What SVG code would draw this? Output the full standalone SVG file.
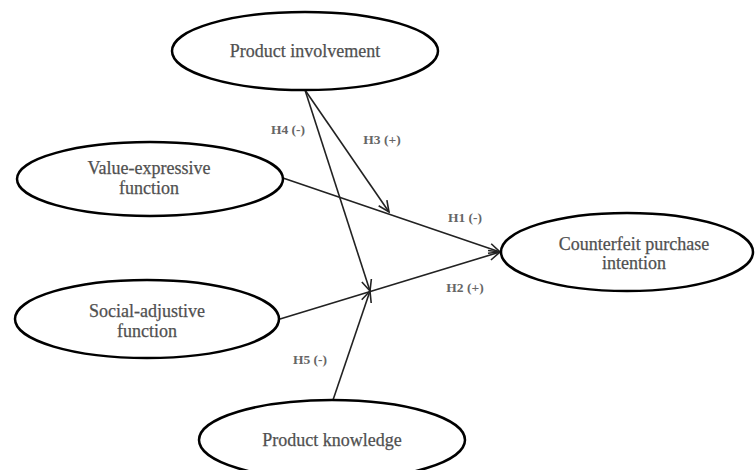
<svg xmlns="http://www.w3.org/2000/svg" width="755" height="470" viewBox="0 0 755 470">
<style>
.node ellipse{fill:#fff;stroke:#000;stroke-width:2.5}
.nt{font-family:"Liberation Serif","DejaVu Serif",serif;font-size:18px;fill:#505050;text-anchor:middle;stroke:#505050;stroke-width:0.25}
.lb{font-family:"Liberation Serif","DejaVu Serif",serif;font-size:13.5px;fill:#666;text-anchor:middle;font-weight:bold}
.edges line{stroke:#222;stroke-width:1.6;marker-end:url(#arr)}
</style>
<defs>
<marker id="arr" markerUnits="userSpaceOnUse" markerWidth="14" markerHeight="14" refX="12" refY="6" orient="auto" viewBox="0 0 14 12">
<path d="M1,1 L12,6 L1,11" fill="none" stroke="#222" stroke-width="1.6"/>
</marker>
</defs>
<rect width="755" height="470" fill="#fff"/>
<g class="edges" id="connectors">
<line x1="283" y1="178" x2="500" y2="252"/>
<line x1="280" y1="319" x2="500" y2="252"/>
<line x1="305" y1="90" x2="389" y2="212"/>
<line x1="305" y1="90" x2="370" y2="291"/>
<line x1="333" y1="400" x2="370" y2="291"/>
</g>
<g class="node" id="product-involvement">
<ellipse cx="305" cy="51" rx="133" ry="39"/>
<text class="nt" x="305" y="57">Product involvement</text>
</g>
<g class="node" id="value-expressive">
<ellipse cx="150" cy="179" rx="133" ry="37"/>
<text class="nt" x="149" y="174">Value-expressive</text>
<text class="nt" x="149" y="194">function</text>
</g>
<g class="node" id="social-adjustive">
<ellipse cx="147" cy="319" rx="132" ry="39"/>
<text class="nt" x="147" y="317">Social-adjustive</text>
<text class="nt" x="147" y="337">function</text>
</g>
<g class="node" id="counterfeit">
<ellipse cx="627" cy="252" rx="126" ry="39"/>
<text class="nt" x="634" y="250">Counterfeit purchase</text>
<text class="nt" x="634" y="269">intention</text>
</g>
<g class="node" id="product-knowledge">
<ellipse cx="332" cy="440" rx="133" ry="40"/>
<text class="nt" x="332" y="446">Product knowledge</text>
</g>
<g id="labels">
<text class="lb" x="288" y="134">H4 (-)</text>
<text class="lb" x="382" y="144">H3 (+)</text>
<text class="lb" x="465" y="222">H1 (-)</text>
<text class="lb" x="465" y="292">H2 (+)</text>
<text class="lb" x="310" y="364">H5 (-)</text>
</g>
</svg>
